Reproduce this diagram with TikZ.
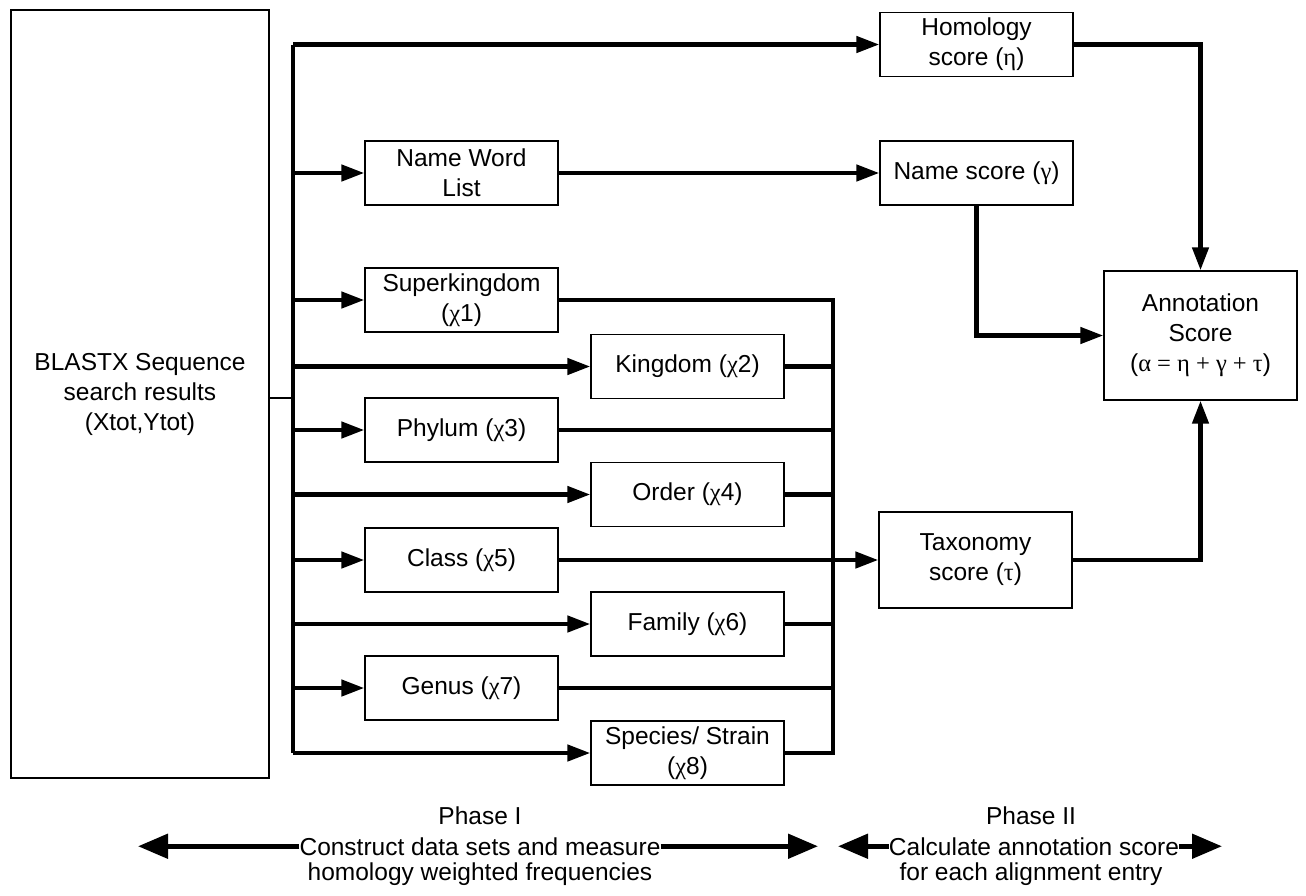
\documentclass[tikz,border=0pt]{standalone}
\usepackage{fontspec}
\setmainfont{Liberation Sans}
\newfontfamily\grk{Liberation Serif}
\usetikzlibrary{arrows.meta}
\newcommand\myfs{\fontsize{24.5}{30}\selectfont}
\begin{document}
\begin{tikzpicture}[x=1pt,y=-1pt,
  box/.style={draw, line width=1.3pt, minimum width=193pt, minimum height=64pt, inner sep=0pt, align=center, font=\myfs},
  lbl/.style={inner sep=0pt, font=\myfs},
  conn/.style={line width=4.5pt, line join=miter},
  thin/.style={line width=1.8pt},
  arr/.style={line width=4.5pt, line join=miter, -{Triangle[length=23pt,width=16pt]}},
  bigarr/.style={line width=5pt, -{Triangle[length=30pt,width=24pt]}}]
\path[fill=white, use as bounding box] (0,0) rectangle (1306,895);

% source
\node[box, minimum width=258pt, minimum height=768pt] (blast) at (140,394)
  {BLASTX Sequence\\search results\\(Xtot,Ytot)};
\coordinate (lbt) at (293,44.5);
\coordinate (lbb) at (293,753);
\coordinate (rb) at (833,300);

% phase I boxes
\node[box] (hom) at (976.5,44.5) {Homology\\score ({\grk η})};
\node[box] (nwl) at (461.5,173) {Name Word\\List};
\node[box] (nsc) at (976.5,173) {Name score ({\grk γ})};
\node[box] (sk) at (461.5,300) {Superkingdom\\({\grk χ}1)};
\node[box] (kg) at (687.5,366.5) {Kingdom ({\grk χ}2)};
\node[box] (ph) at (461.5,430) {Phylum ({\grk χ}3)};
\node[box] (od) at (687.5,494.5) {Order ({\grk χ}4)};
\node[box] (cl) at (461.5,560) {Class ({\grk χ}5)};
\node[box] (fm) at (687.5,624) {Family ({\grk χ}6)};
\node[box] (gn) at (461.5,688) {Genus ({\grk χ}7)};
\node[box] (sp) at (687.5,753) {Species/ Strain\\({\grk χ}8)};
\node[box, minimum height=96pt] (tax) at (975.5,560) {Taxonomy\\score ({\grk τ})};
\node[box, minimum height=129pt] (ann) at (1200.5,335.5) {Annotation\\Score\\({\grk α = η + γ + τ})};

% left bus
\draw[thin] (blast.east |- 0,398) -- (lbt |- 0,398);
\draw[conn] (lbt) -- (lbb);
\draw[arr] (lbt) -- (hom.west);
\draw[arr] (lbt |- nwl.west) -- (nwl.west);
\draw[arr] (nwl.east) -- (nsc.west);
\foreach \n in {sk,kg,ph,od,cl,fm,gn}
  \draw[arr] (lbt |- \n.west) -- (\n.west);
\draw[arr] (lbb) -- (sp.west);

% right bus
\draw[conn] (sk.east) -- (rb) -- (rb |- sp.east) -- (sp.east);
\foreach \n in {kg,ph,od,fm,gn}
  \draw[conn] (\n.east) -- (rb |- \n.east);
\draw[arr] (cl.east) -- (tax.west);

% phase II
\draw[arr] (hom.east) -| (ann.north);
\draw[arr] (nsc.south) |- (ann.west);
\draw[arr] (tax.east) -| (ann.south);

% phase labels
\coordinate (tl1) at (138,0);
\coordinate (tr1) at (818,0);
\coordinate (tl2) at (838,0);
\coordinate (tr2) at (1222,0);
\node[lbl, anchor=base] (p1) at (480,824) {Phase I};
\node[lbl, anchor=base] (c1) at (480,855) {Construct data sets and measure};
\node[lbl, anchor=base] (h1) at (480,880) {homology weighted frequencies};
\draw[bigarr] (c1.west) -- (c1.west -| tl1);
\draw[bigarr] (c1.east) -- (c1.east -| tr1);
\node[lbl, anchor=base] (p2) at (1031,824) {Phase II};
\node[lbl, anchor=base] (c2) at (1034,855) {Calculate annotation score};
\node[lbl, anchor=base] (h2) at (1031,880) {for each alignment entry};
\draw[bigarr] (c2.west) -- (c2.west -| tl2);
\draw[bigarr] (c2.east) -- (c2.east -| tr2);
\end{tikzpicture}
\end{document}
